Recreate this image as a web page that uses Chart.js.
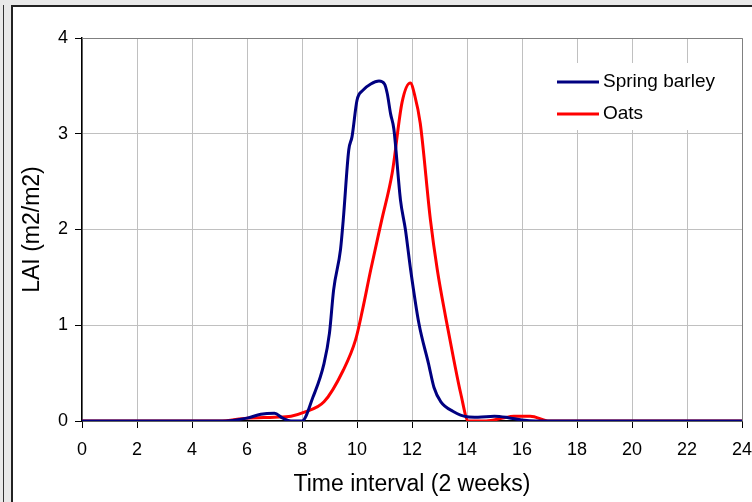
<!DOCTYPE html>
<html>
<head>
<meta charset="utf-8">
<script src="https://cdn.jsdelivr.net/npm/chart.js@4"></script>
<style>
  body { margin: 0; width: 752px; height: 502px; overflow: hidden; background: #e9e9e9; position: relative; }
  .strip { position: absolute; left: 3px; top: 5px; width: 1px; height: 497px; background: #333; }
  .frame { position: absolute; left: 11px; top: 5px; width: 760px; height: 520px; background: #fff;
           border-left: 2px solid #222; border-top: 2px solid #222; }
  #wrap { position: absolute; left: 13px; top: 7px; width: 739px; height: 495px; }
</style>
</head>
<body>
<div class="strip"></div>
<div class="frame"></div>
<div id="wrap"><canvas id="chart"></canvas></div>
<script>
// valores (intervalo de 2 semanas, LAI m2/m2)
const barleyX = [0, 5, 6, 6.5, 7, 7.3, 7.6, 8, 8.4, 8.8, 9.0, 9.15, 9.4, 9.5, 9.7, 9.82, 10.0, 10.2, 10.5, 10.8, 11.0, 11.1, 11.22, 11.34, 11.58, 11.76, 11.95, 12.25, 12.6, 12.8, 13.05, 13.5, 14.0, 14.4, 15.0, 15.5, 16.0, 16.5, 24];
const barleyY = [0, 0, 0.03, 0.07, 0.08, 0.03, 0, 0, 0.25, 0.6, 0.92, 1.37, 1.79, 2.1, 2.83, 2.97, 3.35, 3.45, 3.52, 3.55, 3.52, 3.42, 3.21, 3.05, 2.31, 2.0, 1.58, 1.02, 0.6, 0.35, 0.2, 0.1, 0.045, 0.04, 0.05, 0.035, 0.01, 0, 0];

const oatsX = [0, 5, 6, 7, 7.6, 8.06, 8.8, 9.5, 9.95, 10.2, 10.5, 10.9, 11.28, 11.64, 11.94, 12.1, 12.3, 12.67, 12.92, 13.22, 13.52, 13.77, 14.05, 14.7, 15.3, 15.7, 16.3, 17, 24];
const oatsY = [0, 0, 0.03, 0.04, 0.05, 0.09, 0.2, 0.53, 0.85, 1.16, 1.58, 2.1, 2.59, 3.33, 3.53, 3.4, 3.11, 2.1, 1.58, 1.09, 0.64, 0.29, 0, 0, 0.03, 0.05, 0.05, 0, 0];

const seriesNames = ['Spring barley', 'Oats'];
const seriesColors = ['#000080', '#ff0000'];

const toPoints = (xs, ys) => xs.map((x, i) => ({ x: x, y: ys[i] }));

// moldura cinza do plot + legenda com fundo branco
const plotDecor = {
    id: 'plotDecor',
    beforeDatasetsDraw(chart) {
        const { ctx, chartArea: a } = chart;
        ctx.save();
        ctx.strokeStyle = '#808080';
        ctx.lineWidth = 1;
        ctx.beginPath();
        ctx.moveTo(a.left, a.top + 0.5);
        ctx.lineTo(a.right + 0.5, a.top + 0.5);
        ctx.lineTo(a.right + 0.5, a.bottom);
        ctx.stroke();
        ctx.restore();
    },
    afterDraw(chart) {
        const { ctx, chartArea: a } = chart;
        ctx.save();
        ctx.fillStyle = '#fff';
        ctx.fillRect(a.right - 196, a.top + 25, 195, 67);
        ctx.font = '19px "Liberation Sans", Arial, sans-serif';
        ctx.textBaseline = 'middle';
        chart.data.datasets.forEach((ds, i) => {
            const y = a.top + 44 + i * 32;
            ctx.strokeStyle = ds.borderColor;
            ctx.lineWidth = 3;
            ctx.beginPath();
            ctx.moveTo(a.right - 185, y);
            ctx.lineTo(a.right - 143, y);
            ctx.stroke();
            ctx.fillStyle = '#000';
            ctx.fillText(ds.label, a.right - 139, y);
        });
        ctx.restore();
    }
};

const tickFont = { family: '"Liberation Sans", Arial, sans-serif', size: 18 };
const titleFont = { family: '"Liberation Sans", Arial, sans-serif', size: 23 };

new Chart(document.getElementById('chart'), {
    type: 'line',
    data: {
        datasets: [
            { label: seriesNames[0], data: toPoints(barleyX, barleyY), borderColor: seriesColors[0], borderWidth: 3, pointRadius: 0, cubicInterpolationMode: 'monotone' },
            { label: seriesNames[1], data: toPoints(oatsX, oatsY), borderColor: seriesColors[1], borderWidth: 3, pointRadius: 0, cubicInterpolationMode: 'monotone' }
        ]
    },
    options: {
        responsive: true,
        maintainAspectRatio: false,
        animation: false,
        layout: { padding: { top: 31, right: 1, left: 0, bottom: 0 } },
        plugins: { legend: { display: false }, tooltip: { enabled: false } },
        scales: {
            x: {
                type: 'linear',
                min: 0, max: 24,
                afterFit: s => { s.height = 81; s.paddingRight = 10; },
                ticks: { stepSize: 2, color: '#000', font: tickFont, padding: 11, maxRotation: 0 },
                grid: { color: '#c0c0c0', tickColor: '#000', tickLength: 7 },
                border: { color: '#000', width: 1.5 },
                title: { display: true, text: 'Time interval (2 weeks)', color: '#000', font: titleFont, padding: { bottom: 4 } }
            },
            y: {
                min: 0, max: 4,
                afterFit: s => { s.width = 69; },
                ticks: { stepSize: 1, color: '#000', font: tickFont, padding: 7 },
                grid: { color: '#c0c0c0', tickColor: '#000', tickLength: 7 },
                border: { color: '#000', width: 1.5 },
                title: { display: true, text: 'LAI (m2/m2)', color: '#000', font: titleFont, padding: { top: 6 } }
            }
        }
    },
    plugins: [plotDecor]
});
</script>
</body>
</html>
